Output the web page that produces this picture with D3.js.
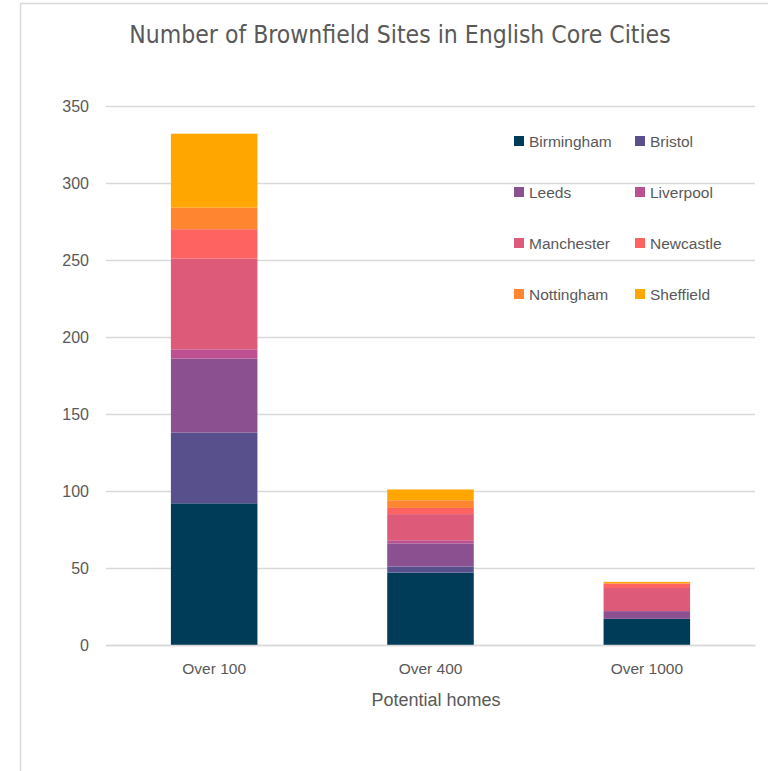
<!DOCTYPE html>
<html>
<head>
<meta charset="utf-8">
<script src="https://cdn.jsdelivr.net/npm/d3@7"></script>
<style>
  html, body { margin: 0; padding: 0; background: #ffffff; }
  svg { display: block; }
</style>
</head>
<body>
<svg id="chart" width="768" height="771"></svg>
<script>
// Brownfield sites by size band (potential homes), stacked by core city
const categories = ["Over 100", "Over 400", "Over 1000"];
const cities = ["Birmingham", "Bristol", "Leeds", "Liverpool", "Manchester", "Newcastle", "Nottingham", "Sheffield"];
const birmingham = [92, 47, 17];
const bristol    = [46, 4, 0];
const leeds      = [48, 15, 5];
const liverpool  = [6, 2, 0];
const manchester = [59, 17, 15];
const newcastle  = [19, 4, 3];
const nottingham = [14, 5, 0];
const sheffield  = [48, 7, 1];
const yTicks = [0, 50, 100, 150, 200, 250, 300, 350];
const colors = ["#003b57", "#58508d", "#8a508f", "#bc5090", "#de5a79", "#ff6361", "#ff8531", "#ffa600"];

const seriesValues = [birmingham, bristol, leeds, liverpool, manchester, newcastle, nottingham, sheffield];
const rows = categories.map((c, i) => {
  const r = { category: c };
  cities.forEach((city, j) => { r[city] = seriesValues[j][i]; });
  return r;
});

const svg = d3.select("#chart");
const font = "'Liberation Sans', Arial, sans-serif";
const textColor = "#595959";

// chart frame
svg.append("rect")
  .attr("x", 20.5).attr("y", 3.5)
  .attr("width", 800).attr("height", 800)
  .attr("fill", "#ffffff")
  .attr("stroke", "#d9d9d9").attr("stroke-width", 1.5);

const x = d3.scaleBand()
  .domain(categories)
  .range([106, 755])
  .paddingInner(0.6)
  .paddingOuter(0.3);

const y = d3.scaleLinear().domain([0, 350]).range([645, 106]);

// horizontal gridlines + value labels
const yAxis = d3.axisLeft(y).tickValues(yTicks).tickSize(-(755 - 106)).tickPadding(17);
const gy = svg.append("g").attr("transform", "translate(106,0)").call(yAxis);
gy.select(".domain").remove();
gy.selectAll(".tick line").attr("stroke", "#d9d9d9").attr("stroke-width", 1.5);
gy.selectAll(".tick text")
  .attr("fill", textColor).attr("font-family", font).attr("font-size", 16);

// stacked bars
const stack = d3.stack().keys(cities);
const layers = stack(rows);
svg.append("g").selectAll("g")
  .data(layers)
  .join("g")
  .attr("fill", (d, i) => colors[i])
  .selectAll("rect")
  .data(d => d)
  .join("rect")
  .attr("x", d => x(d.data.category))
  .attr("width", x.bandwidth())
  .attr("y", d => y(d[1]))
  .attr("height", d => y(d[0]) - y(d[1]));

// category axis
const xAxis = d3.axisBottom(x).tickSize(0).tickPadding(18);
const gx = svg.append("g").attr("transform", "translate(0,645)").call(xAxis);
gx.select(".domain").attr("stroke", "#d9d9d9").attr("stroke-width", 1.5);
gx.selectAll(".tick text")
  .attr("fill", textColor).attr("font-family", font).attr("font-size", 15.5);

// axis title
svg.append("text")
  .attr("x", 436).attr("y", 706)
  .attr("text-anchor", "middle")
  .attr("fill", textColor).attr("font-family", font).attr("font-size", 18)
  .text("Potential homes");

// chart title
svg.append("text")
  .attr("x", 400).attr("y", 43)
  .attr("text-anchor", "middle")
  .attr("fill", textColor).attr("font-family", "'Liberation Sans Narrow', 'DejaVu Sans Condensed', sans-serif").attr("font-size", 24.5)
  .text("Number of Brownfield Sites in English Core Cities");

// legend, two columns
const legend = svg.append("g");
cities.forEach((city, i) => {
  const col = i % 2, row = Math.floor(i / 2);
  const lx = col === 0 ? 514 : 635;
  const ly = 141 + row * 51;
  const g = legend.append("g").attr("transform", `translate(${lx},${ly})`);
  g.append("rect").attr("x", 0).attr("y", -5).attr("width", 10).attr("height", 10).attr("fill", colors[i]);
  g.append("text").attr("x", 15).attr("y", 5.5)
    .attr("fill", textColor).attr("font-family", font).attr("font-size", 15.5)
    .text(city);
});
</script>
</body>
</html>
